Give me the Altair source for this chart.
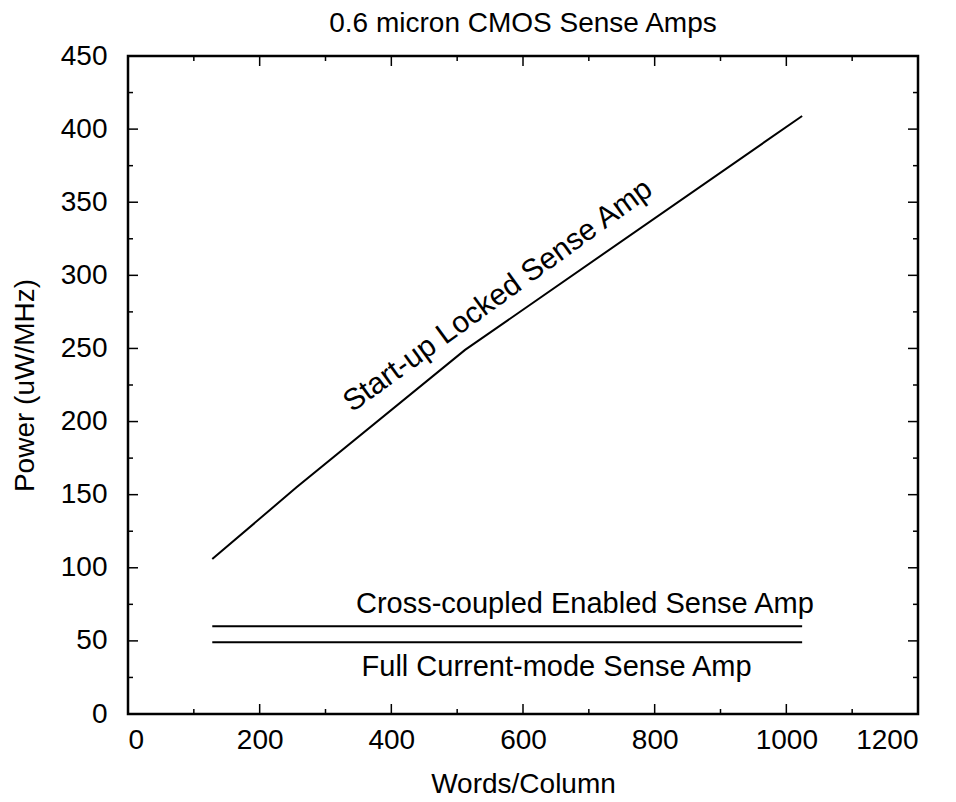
import altair as alt
import pandas as pd

# Power per MHz of three sense-amplifier designs vs. column height
words = [128, 256, 512, 1024]
startup_power = [106, 155, 249, 409]
cross_power = [60, 60, 60, 60]
full_power = [49, 49, 49, 49]

series_names = ["Start-up Locked Sense Amp",
                "Cross-coupled Enabled Sense Amp",
                "Full Current-mode Sense Amp"]

x_major = list(range(0, 1201, 200))
x_minor = list(range(100, 1200, 200))
y_major = list(range(0, 451, 50))
y_minor = list(range(25, 450, 50))

# in-plot labels: (text, x, y, angle)
label_text = ["Start-up Locked Sense Amp",
              "Cross-coupled Enabled Sense Amp",
              "Full Current-mode Sense Amp"]
label_x = [562, 694, 651]
label_y = [286, 75, 32]
label_angle = [324, 0, 0]

W, H = 790, 658
FONT = "Liberation Sans"
FS = 28

rows = []
for name, vals in zip(series_names, [startup_power, cross_power, full_power]):
    for w, p in zip(words, vals):
        rows.append({"series": name, "words": w, "power": p})
df = pd.DataFrame(rows)

xs = alt.Scale(domain=[0, 1200], nice=False, zero=False)
ys = alt.Scale(domain=[0, 450], nice=False, zero=False)

axis_common = dict(ticks=False, tickSize=0, domain=False, grid=False, format="d",
                   labelFontSize=FS, labelFont=FONT, labelColor="black",
                   titleFontSize=FS, titleFont=FONT, titleFontWeight="normal",
                   titleColor="black")

lines = alt.Chart(df).mark_line(color="black", strokeWidth=2).encode(
    x=alt.X("words:Q", scale=xs,
            axis=alt.Axis(values=x_major, labelPadding=12, title="Words/Column",
                          titleY=70, titleBaseline="middle", **axis_common)),
    y=alt.Y("power:Q", scale=ys,
            axis=alt.Axis(values=y_major, labelPadding=21, title="Power (uW/MHz)",
                          titleX=-103, titleBaseline="middle", **axis_common)),
    detail="series:N",
)


def ticks(vals, length, side):
    # inward tick marks on every side of the frame
    d = pd.DataFrame({"words": vals, "power": vals})
    if side == "bottom":
        enc = dict(x=alt.X("words:Q", scale=xs), y=alt.value(H), y2=alt.value(H - length))
    elif side == "top":
        enc = dict(x=alt.X("words:Q", scale=xs), y=alt.value(0), y2=alt.value(length))
    elif side == "left":
        enc = dict(y=alt.Y("power:Q", scale=ys), x=alt.value(0), x2=alt.value(length))
    else:
        enc = dict(y=alt.Y("power:Q", scale=ys), x=alt.value(W), x2=alt.value(W - length))
    return alt.Chart(d).mark_rule(color="black", strokeWidth=1.5).encode(**enc)


tick_layers = []
for side in ["bottom", "top"]:
    tick_layers.append(ticks(x_major, 10, side))
    tick_layers.append(ticks(x_minor, 5, side))
for side in ["left", "right"]:
    tick_layers.append(ticks(y_major, 10, side))
    tick_layers.append(ticks(y_minor, 5, side))

labels_df = pd.DataFrame({"text": label_text, "words": label_x, "power": label_y,
                          "angle": label_angle})

flat_labels = alt.Chart(labels_df[labels_df["angle"] == 0]).mark_text(
    font=FONT, fontSize=29, color="black", align="center", baseline="middle"
).encode(
    x=alt.X("words:Q", scale=xs),
    y=alt.Y("power:Q", scale=ys),
    text="text:N",
)

slanted_labels = alt.Chart(labels_df[labels_df["angle"] != 0]).mark_text(
    font=FONT, fontSize=30, color="black", align="center", baseline="middle",
    angle=label_angle[0]
).encode(
    x=alt.X("words:Q", scale=xs),
    y=alt.Y("power:Q", scale=ys),
    text="text:N",
)

chart = alt.layer(lines, *tick_layers, flat_labels, slanted_labels).properties(
    width=W, height=H,
    background="white",
    autosize=alt.AutoSizeParams(type="none"),
    padding={"left": 128, "top": 56, "right": 38, "bottom": 88},
    title=alt.TitleParams("0.6 micron CMOS Sense Amps", font=FONT, fontSize=FS,
                          fontWeight="normal", color="black", anchor="middle",
                          baseline="alphabetic", offset=-18),
).configure_view(stroke="black", strokeWidth=2.5)

chart.save("out.html", embed_options={"renderer": "svg", "actions": False})
